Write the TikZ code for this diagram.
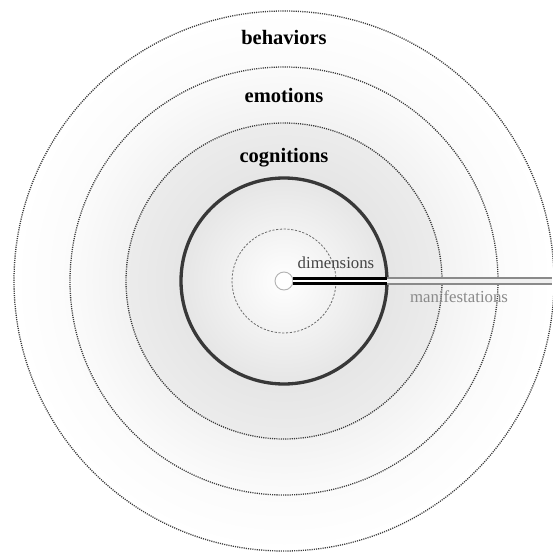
\documentclass[tikz,border=0pt]{standalone}
\usepackage{fontspec}
\setmainfont{Liberation Serif}
\usetikzlibrary{positioning}
\definecolor{ringgray}{HTML}{3A3A3A}
\definecolor{thickgray}{HTML}{383838}
\definecolor{dimgray}{HTML}{444444}
\definecolor{mangray}{HTML}{8A8A8A}
\pgfdeclareradialshading{outershade}{\pgfpoint{0bp}{0bp}}{%
  color(0bp)=(white!95!black); color(14.6bp)=(white!95!black); color(20bp)=(white!98.5!black); color(25bp)=(white); color(50bp)=(white)}
\pgfdeclareradialshading{cogshade}{\pgfpoint{0bp}{0bp}}{%
  color(0bp)=(white); color(8bp)=(white!95!black); color(16.3bp)=(white!90!black); color(25bp)=(white!92.5!black); color(50bp)=(white!92.5!black)}
\tikzset{
  disc/.style={circle, inner sep=0pt, outer sep=0pt},
  dottedring/.style={draw=ringgray, line width=1.3pt, dash pattern=on 1.1pt off 1.1pt},
  innerring/.style={draw=gray!85!black, line width=0.8pt, dash pattern=on 2.2pt off 1.6pt},
  layerlabel/.style={font=\fontsize{20.5}{24}\selectfont\bfseries, text=black, anchor=base, inner sep=0pt},
  smalllabel/.style={font=\fontsize{16.8}{20}\selectfont, anchor=base, inner sep=0pt},
  blackrail/.style={draw=black, line width=2.6pt, double=white, double distance=2.8pt},
  grayrail/.style={draw=mangray, line width=2.2pt, double=white!94!black, double distance=3.4pt},
}
\begin{document}
\begin{tikzpicture}[x=1pt,y=-1pt]
\useasboundingbox[fill=white] (0,0) rectangle (552,554);
\node[disc, minimum size=540pt, dottedring, shading=outershade] (beh) at (284,281) {};
\node[disc, minimum size=428pt, dottedring] (emo) at (284,281) {};
\node[disc, minimum size=316pt, dottedring, shading=cogshade] (cog) at (284,281) {};
\node[disc, minimum size=206pt, draw=thickgray, line width=3.3pt] (thick) at (284,281) {};
\node[disc, minimum size=104pt, innerring] (dimring) at (284,281) {};
\node[disc, minimum size=18pt, draw=gray!60, line width=0.9pt, fill=white] (core) at (284,281) {};
\coordinate (edge) at (552,281);
\draw[grayrail] (thick.east) -- (edge);
\draw[blackrail] (core.east) -- (thick.east);
\node[layerlabel] (lbeh) at (284,44) {behaviors};
\node[layerlabel] (lemo) at (284,102) {emotions};
\node[layerlabel] (lcog) at (284,162) {cognitions};
\node[smalllabel, text=dimgray] (ldim) at (336,268) {dimensions};
\node[smalllabel, text=mangray] (lman) at (459,302) {manifestations};
\end{tikzpicture}
\end{document}
